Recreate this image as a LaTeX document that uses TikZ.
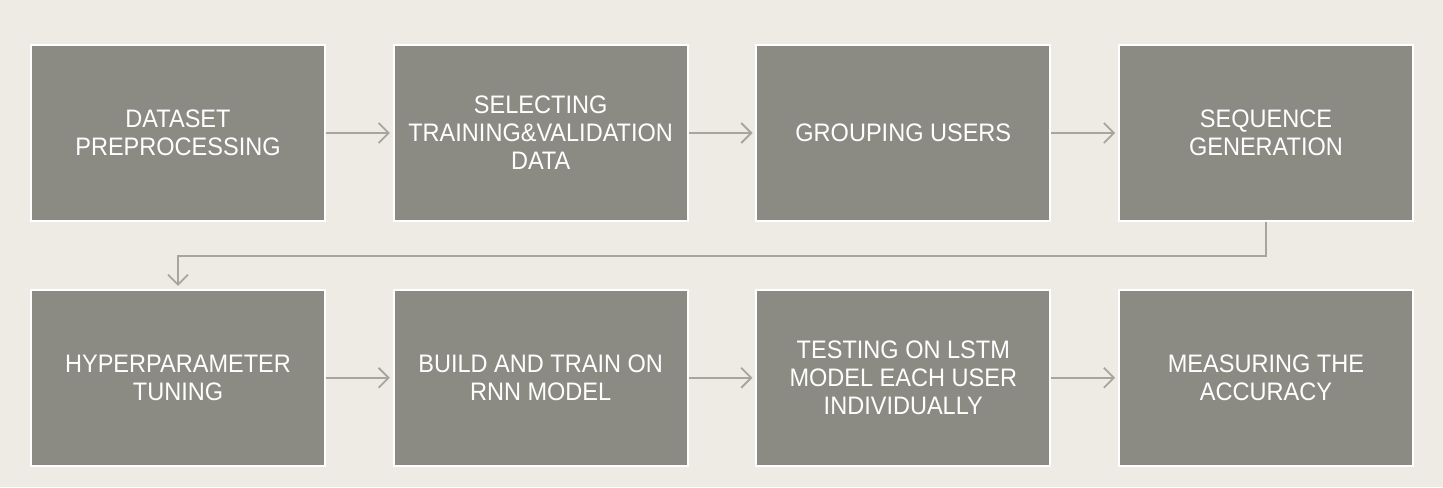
\documentclass[tikz,border=0pt]{standalone}
\usepackage{fontspec}
\setmainfont[FakeStretch=0.93]{Liberation Sans}
\usepackage{tikz}
\usetikzlibrary{positioning,arrows.meta}
\definecolor{bgcol}{HTML}{EEEBE4}
\definecolor{boxcol}{HTML}{8B8B84}
\definecolor{linecol}{HTML}{A6A69F}
\tikzset{
	stage/.style={draw=white,line width=1.4pt,fill=boxcol,text=white,minimum width=7.35cm,minimum height=4.4cm,align=center,font=\fontsize{18}{19.9}\selectfont},
	flow/.style={draw=linecol,line width=1.3pt,-{Straight Barb[length=2.5mm,width=5mm]},shorten >=2pt}
}
\begin{document}
\begin{tikzpicture}
	\useasboundingbox[fill=bgcol] (0,0) rectangle (36.075,-12.175);
	\node[stage] (prep) at (4.45,-3.325) {DATASET\\PREPROCESSING};
	\node[stage,right=1.667cm of prep] (select) {SELECTING\\TRAINING\&VALIDATION\\DATA};
	\node[stage,right=1.667cm of select] (group) {GROUPING USERS};
	\node[stage,right=1.667cm of group] (seq) {SEQUENCE\\GENERATION};
	\node[stage,below=1.67cm of prep] (hyper) {HYPERPARAMETER\\TUNING};
	\node[stage,right=1.667cm of hyper] (train) {BUILD AND TRAIN ON\\RNN MODEL};
	\node[stage,right=1.667cm of train] (test) {TESTING ON LSTM\\MODEL EACH USER\\INDIVIDUALLY};
	\node[stage,right=1.667cm of test] (acc) {MEASURING THE\\ACCURACY};
	\draw[flow] (prep) -- (select);
	\draw[flow] (select) -- (group);
	\draw[flow] (group) -- (seq);
	\draw[flow] (seq.south) -- ++(0,-0.86) -| (hyper.north);
	\draw[flow] (hyper) -- (train);
	\draw[flow] (train) -- (test);
	\draw[flow] (test) -- (acc);
\end{tikzpicture}
\end{document}
